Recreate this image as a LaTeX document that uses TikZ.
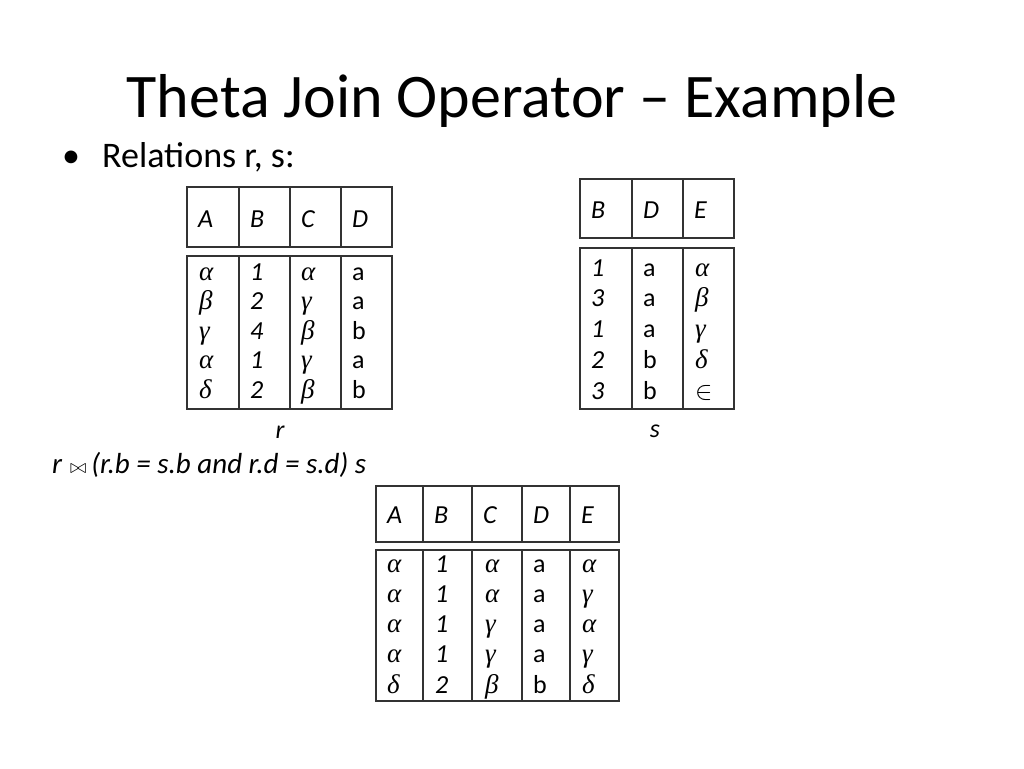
\documentclass[tikz,border=0pt]{standalone}
\usepackage{fix-cm}
\usepackage{fontspec}
\setmainfont{Carlito}
\newfontfamily\grk{Liberation Serif}
\newcommand\gk[1]{{\grk\itshape\fontsize{27}{31}\selectfont #1}}
\begin{document}
\begin{tikzpicture}[x=1pt,y=-1pt,
  tbl/.style={draw=black!80, line width=1.3pt},
  cell/.style={anchor=base west, inner sep=0pt, font=\fontsize{26}{31}\selectfont},
  icell/.style={cell, font=\fontsize{26}{31}\selectfont\itshape},
  lbl/.style={anchor=base, inner sep=0pt, font=\fontsize{26}{31}\selectfont\itshape}]
\useasboundingbox (0,0) rectangle (1024,768);
% title and bullet
\node[anchor=base, inner sep=0pt, font=\fontsize{62}{75}\selectfont] (title) at (512,117) {Theta Join Operator \textendash{} Example};
\node[anchor=base west, inner sep=0pt, font=\fontsize{36}{43}\selectfont] (bullet) at (62,167) {\textbullet};
\node[anchor=base west, inner sep=0pt, font=\fontsize{36}{43}\selectfont] (rel) at (102,167) {Relations r, s:};

% ---------- table r ----------
\draw[tbl] (187,187) rectangle (392,247);
\draw[tbl] (187,256) rectangle (392,409);
\foreach \x in {239,290,341} {
  \draw[tbl] (\x,187) -- (\x,247);
  \draw[tbl] (\x,256) -- (\x,409);
}
\foreach \h/\x [count=\i] in {A/198,B/250,C/301,D/352}
  \node[icell] (rh\i) at (\x,227) {\h};
\foreach \v [count=\i from 0] in {α,β,γ,α,δ}
  \node[cell] (rA\i) at (199,{280+29.5*\i}) {\gk{\v}};
\foreach \v [count=\i from 0] in {1,2,4,1,2}
  \node[icell] (rB\i) at (250,{280+29.5*\i}) {\v};
\foreach \v [count=\i from 0] in {α,γ,β,γ,β}
  \node[cell] (rC\i) at (301,{280+29.5*\i}) {\gk{\v}};
\foreach \v [count=\i from 0] in {a,a,b,a,b}
  \node[cell] (rD\i) at (352,{280+29.5*\i}) {\v};
\node[lbl] (rlabel) at (280,438) {r};

% ---------- table s ----------
\draw[tbl] (580,179) rectangle (734,238);
\draw[tbl] (580,248) rectangle (734,409);
\foreach \x in {632,683} {
  \draw[tbl] (\x,179) -- (\x,238);
  \draw[tbl] (\x,248) -- (\x,409);
}
\foreach \h/\x [count=\i] in {B/591,D/643,E/694}
  \node[icell] (sh\i) at (\x,218) {\h};
\foreach \v [count=\i from 0] in {1,3,1,2,3}
  \node[icell] (sB\i) at (591,{276+30.75*\i}) {\v};
\foreach \v [count=\i from 0] in {a,a,a,b,b}
  \node[cell] (sD\i) at (643,{276+30.75*\i}) {\v};
\foreach \v [count=\i from 0] in {α,β,γ,δ}
  \node[cell] (sE\i) at (695,{276+30.75*\i}) {\gk{\v}};
\node[cell] (sE4) at (695,{276+30.75*4}) {$\in$};
\node[lbl] (slabel) at (655,437) {s};

% ---------- expression ----------
\node[anchor=base west, inner sep=0pt, font=\fontsize{29}{34}\selectfont\itshape] (expr) at (52,473)
  {r\;{\fontsize{20}{20}\selectfont$\bowtie$}\,(r.b = s.b and r.d = s.d) s};

% ---------- result table ----------
\draw[tbl] (376,486) rectangle (619,542);
\draw[tbl] (376,550) rectangle (619,701);
\foreach \x in {423,472,522,570} {
  \draw[tbl] (\x,486) -- (\x,542);
  \draw[tbl] (\x,550) -- (\x,701);
}
\foreach \h/\x [count=\i] in {A/387,B/434,C/483,D/533,E/581}
  \node[icell] (th\i) at (\x,523) {\h};
\foreach \v [count=\i from 0] in {α,α,α,α,δ}
  \node[cell] (tA\i) at (387,{572+30.25*\i}) {\gk{\v}};
\foreach \v [count=\i from 0] in {1,1,1,1,2}
  \node[icell] (tB\i) at (435,{572+30.25*\i}) {\v};
\foreach \v [count=\i from 0] in {α,α,γ,γ,β}
  \node[cell] (tC\i) at (485,{572+30.25*\i}) {\gk{\v}};
\foreach \v [count=\i from 0] in {a,a,a,a,b}
  \node[cell] (tD\i) at (533,{572+30.25*\i}) {\v};
\foreach \v [count=\i from 0] in {α,γ,α,γ,δ}
  \node[cell] (tE\i) at (582,{572+30.25*\i}) {\gk{\v}};
\end{tikzpicture}
\end{document}
